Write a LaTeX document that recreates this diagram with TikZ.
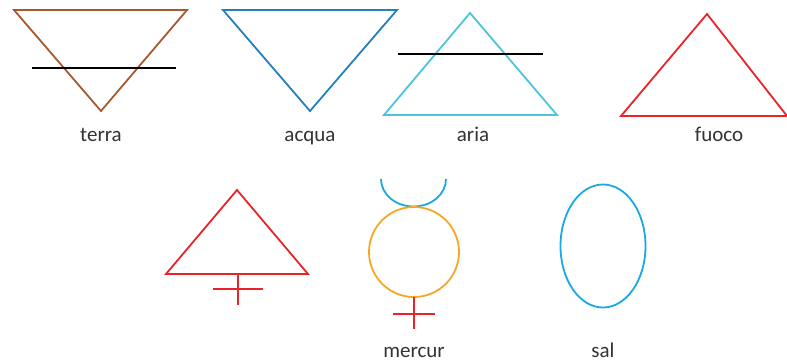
\documentclass[tikz,border=0pt]{standalone}
\usepackage{fontspec}
\setmainfont{Carlito}
\usetikzlibrary{positioning}

\definecolor{terrabrown}{RGB}{168,88,48}
\definecolor{acquablue}{RGB}{36,128,186}
\definecolor{ariacyan}{RGB}{76,196,220}
\definecolor{fuocored}{RGB}{234,35,42}
\definecolor{mercorange}{RGB}{246,168,36}
\definecolor{salblue}{RGB}{26,168,226}

\begin{document}
\begin{tikzpicture}[
    x=1pt, y=-1pt,
    sym/.style={line width=1.8pt, line join=miter},
    bar/.style={line width=1.8pt, black},
    label/.style={font=\fontsize{21}{25}\selectfont, text=black!80, inner sep=0pt, anchor=base}
]
\useasboundingbox (0,0) rectangle (787,361);

% Row 1: elements
\draw[sym, terrabrown] (14,10) -- (187,10) -- (101,111) -- cycle;
\draw[bar] (32,68) -- (176,68);
\node[label] (terra) at (101,141) {terra};

\draw[sym, acquablue] (223,10) -- (397,10) -- (310,111) -- cycle;
\node[label] (acqua) at (310,141) {acqua};

\draw[sym, ariacyan] (470,13) -- (557,115) -- (384,115) -- cycle;
\draw[bar] (398,54) -- (543,54);
\node[label] (aria) at (473,141) {aria};

\draw[sym, fuocored] (707,14) -- (787,116) -- (621,116) -- cycle;
\node[label] (fuoco) at (719,141) {fuoco};

% Row 2: principles
\draw[sym, fuocored] (237,190) -- (308,274) -- (166,274) -- cycle;
\draw[sym, fuocored] (238,274) -- (238,305);
\draw[sym, fuocored] (213,289) -- (263,289);

\draw[sym, salblue] (381,179) arc[start angle=180, end angle=0, x radius=32.5, y radius=27.5];
\draw[sym, mercorange] (414,252) circle[radius=45];
\draw[sym, fuocored] (414,297) -- (414,329);
\draw[sym, fuocored] (393,314) -- (435,314);
\node[label] (mercur) at (414,357) {mercur};

\draw[sym, salblue] (603,246) ellipse[x radius=42.5, y radius=61.5];
\node[label] (sal) at (603,357) {sal};
\end{tikzpicture}
\end{document}
